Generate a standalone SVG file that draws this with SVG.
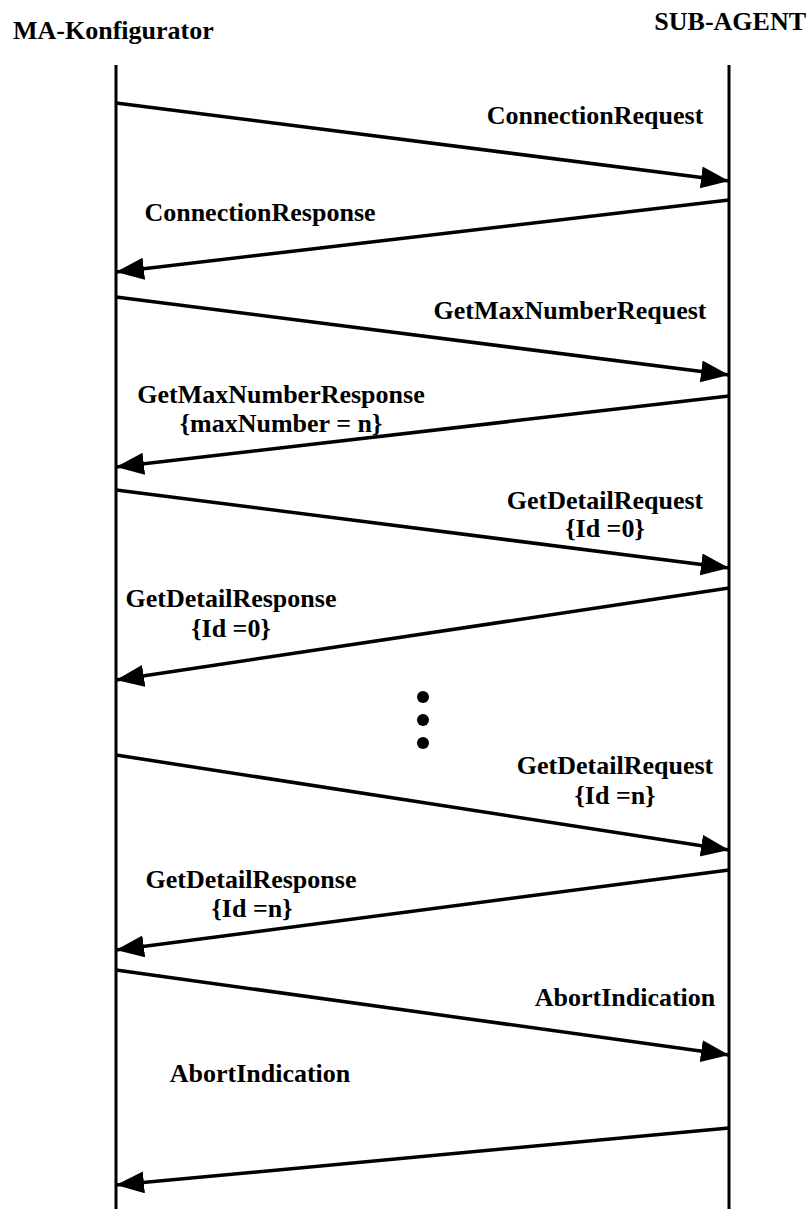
<svg xmlns="http://www.w3.org/2000/svg" width="810" height="1209" viewBox="0 0 810 1209">
  <style>
    .lbl { font-family: "Liberation Serif", "Times New Roman", serif; font-weight: bold; font-size: 26px; fill: #000; text-anchor: middle; }
    .life { stroke: #000; stroke-width: 3; fill: none; }
    .msg { stroke: #000; stroke-width: 3.5; fill: none; marker-end: url(#head); }
  </style>
  <defs>
    <marker id="head" markerUnits="userSpaceOnUse" markerWidth="30" markerHeight="24" refX="28" refY="11" orient="auto">
      <path d="M0,0 L28,11 L0,22 z" fill="#000"/>
    </marker>
  </defs>
  <rect width="810" height="1209" fill="#fff"/>

  <!-- participants -->
  <g id="ma-konfigurator">
    <text class="lbl" x="13" y="39" style="text-anchor:start">MA-Konfigurator</text>
    <line class="life" x1="116" y1="65" x2="116" y2="1209"/>
  </g>
  <g id="sub-agent">
    <text class="lbl" x="806" y="30" style="text-anchor:end">SUB-AGENT</text>
    <line class="life" x1="729" y1="65" x2="729" y2="1209"/>
  </g>

  <!-- messages -->
  <g id="connectors">
    <line class="msg" x1="116" y1="103" x2="729" y2="181"/>
    <line class="msg" x1="729" y1="200" x2="116" y2="272"/>
    <line class="msg" x1="116" y1="297" x2="729" y2="375"/>
    <line class="msg" x1="729" y1="396" x2="116" y2="467"/>
    <line class="msg" x1="116" y1="490" x2="729" y2="568"/>
    <line class="msg" x1="729" y1="588" x2="116" y2="680"/>
    <line class="msg" x1="116" y1="755" x2="729" y2="850"/>
    <line class="msg" x1="729" y1="870" x2="116" y2="950"/>
    <line class="msg" x1="116" y1="970" x2="729" y2="1055"/>
    <line class="msg" x1="729" y1="1128" x2="116" y2="1185"/>
  </g>

  <!-- message labels -->
  <g id="labels">
    <text class="lbl" x="595" y="124">ConnectionRequest</text>
    <text class="lbl" x="260" y="221">ConnectionResponse</text>
    <text class="lbl" x="570" y="319">GetMaxNumberRequest</text>
    <text class="lbl" x="281" y="403">GetMaxNumberResponse</text>
    <text class="lbl" x="281" y="432">{maxNumber = n}</text>
    <text class="lbl" x="605" y="509">GetDetailRequest</text>
    <text class="lbl" x="605" y="537">{Id =0}</text>
    <text class="lbl" x="231" y="607">GetDetailResponse</text>
    <text class="lbl" x="231" y="637">{Id =0}</text>
    <text class="lbl" x="615" y="774">GetDetailRequest</text>
    <text class="lbl" x="615" y="804">{Id =n}</text>
    <text class="lbl" x="251" y="888">GetDetailResponse</text>
    <text class="lbl" x="252" y="917">{Id =n}</text>
    <text class="lbl" x="625" y="1006">AbortIndication</text>
    <text class="lbl" x="260" y="1082">AbortIndication</text>
  </g>

  <!-- ellipsis between repeated exchanges -->
  <g id="ellipsis" fill="#000">
    <circle cx="423" cy="697" r="6"/>
    <circle cx="423" cy="720" r="6"/>
    <circle cx="423" cy="743" r="6"/>
  </g>
</svg>
